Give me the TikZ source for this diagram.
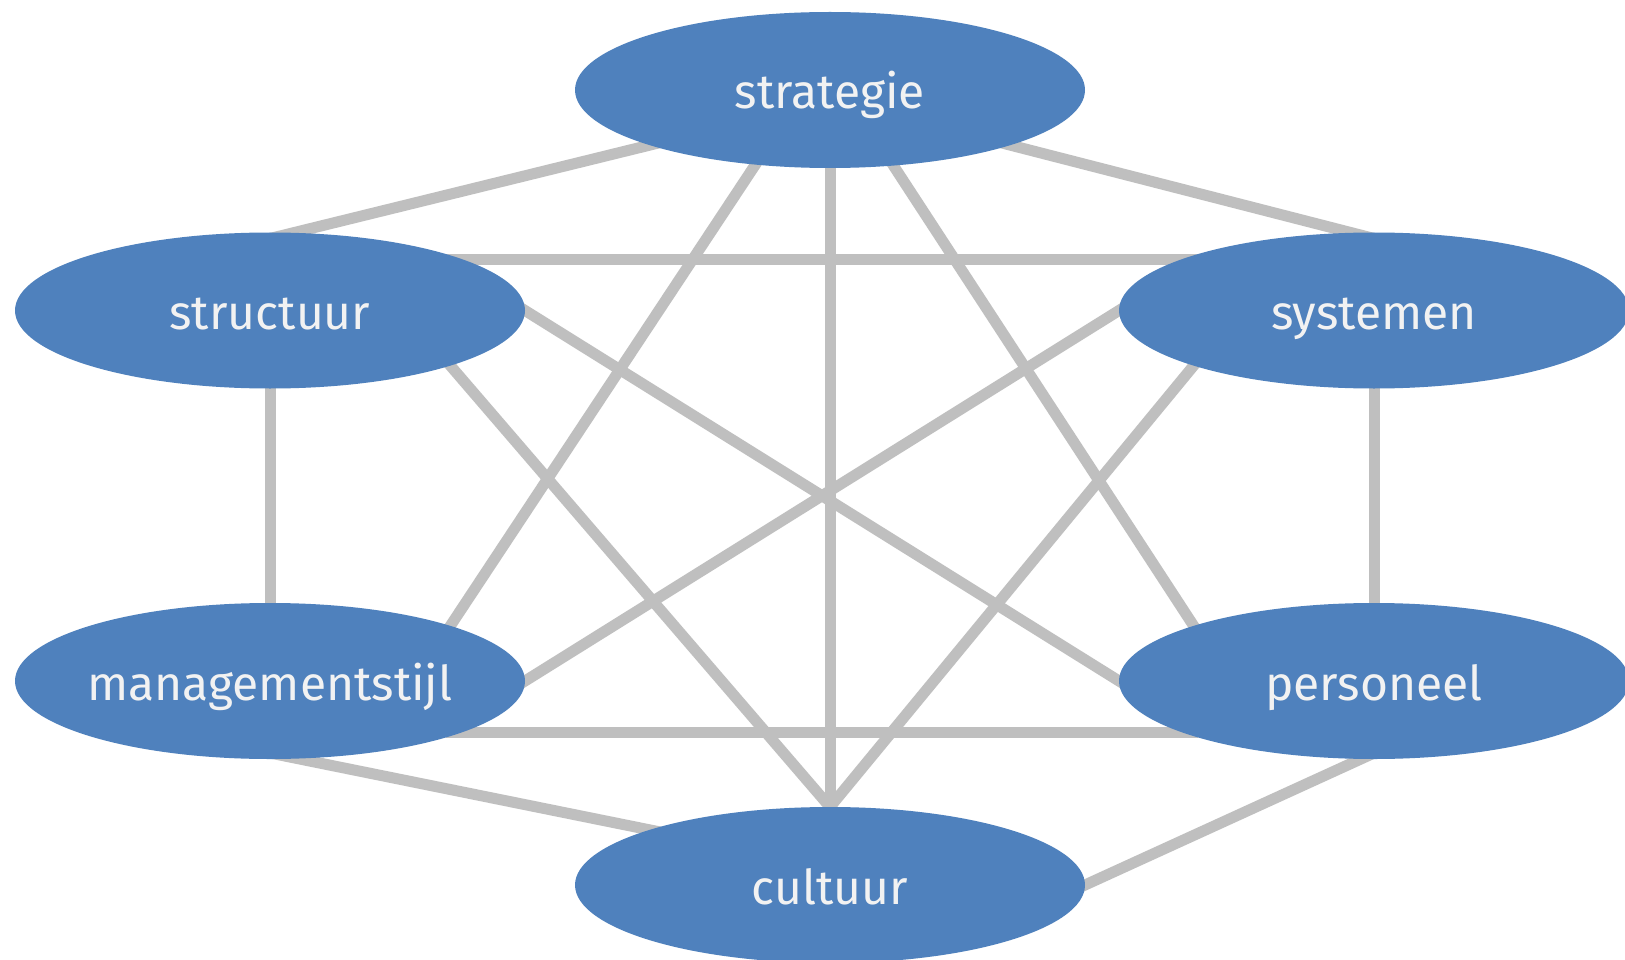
\documentclass[tikz,border=0pt]{standalone}
\usepackage{fontspec}
\setmainfont{Fira Sans}
\usetikzlibrary{shapes.geometric,backgrounds}
\definecolor{blobfill}{HTML}{4F81BD}
\definecolor{linkgray}{HTML}{BFBFBF}
\definecolor{labeltext}{HTML}{F2F2F2}
\begin{document}
\begin{tikzpicture}[x=1pt,y=-1pt,
  blob/.style={ellipse, fill=blobfill, draw=none, minimum width=510pt, minimum height=156pt,
    inner xsep=-60pt, inner ysep=0pt, outer sep=0pt, text=labeltext,
    font=\fontsize{48}{58}\selectfont, text height=38pt, text depth=0pt},
  link/.style={draw=linkgray, line width=11pt, shorten <=-16pt, shorten >=-16pt}]
\useasboundingbox (0,0) rectangle (1625,960);
\node[blob] (S) at (830,90) {strategie};
\node[blob] (T) at (270,310.5) {structuur};
\node[blob] (Y) at (1374,310.5) {systemen};
\node[blob] (M) at (270,681) {managementstijl};
\node[blob] (P) at (1374,681) {personeel};
\node[blob] (C) at (830,885) {cultuur};
\begin{pgfonlayer}{background}
\fill[white] (0,0) rectangle (1625,960);
\draw[link, shorten <=0pt] ([yshift=-6pt]T.90) -- (S.197);
\draw[link, shorten <=0pt] ([yshift=-6pt]Y.90) -- (S.343);
\draw[link] (T.15) -- (Y.165);
\draw[link] (M.17) -- (S.225);
\draw[link] (S.270) -- (C.90);
\draw[link] (P.163) -- (S.310);
\draw[link] (T.0) -- (P.180);
\draw[link] (Y.180) -- (M.0);
\draw[link] (T.343) -- (C.90);
\draw[link] (Y.197) -- (C.90);
\draw[link] (T.270) -- (M.90);
\draw[link] (Y.270) -- (P.90);
\draw[link] (M.345) -- (P.195);
\draw[link, shorten <=0pt] ([yshift=6pt]M.270) -- (C.163);
\draw[link, shorten <=0pt] ([yshift=6pt]P.270) -- (C.0);
\end{pgfonlayer}
\end{tikzpicture}
\end{document}
